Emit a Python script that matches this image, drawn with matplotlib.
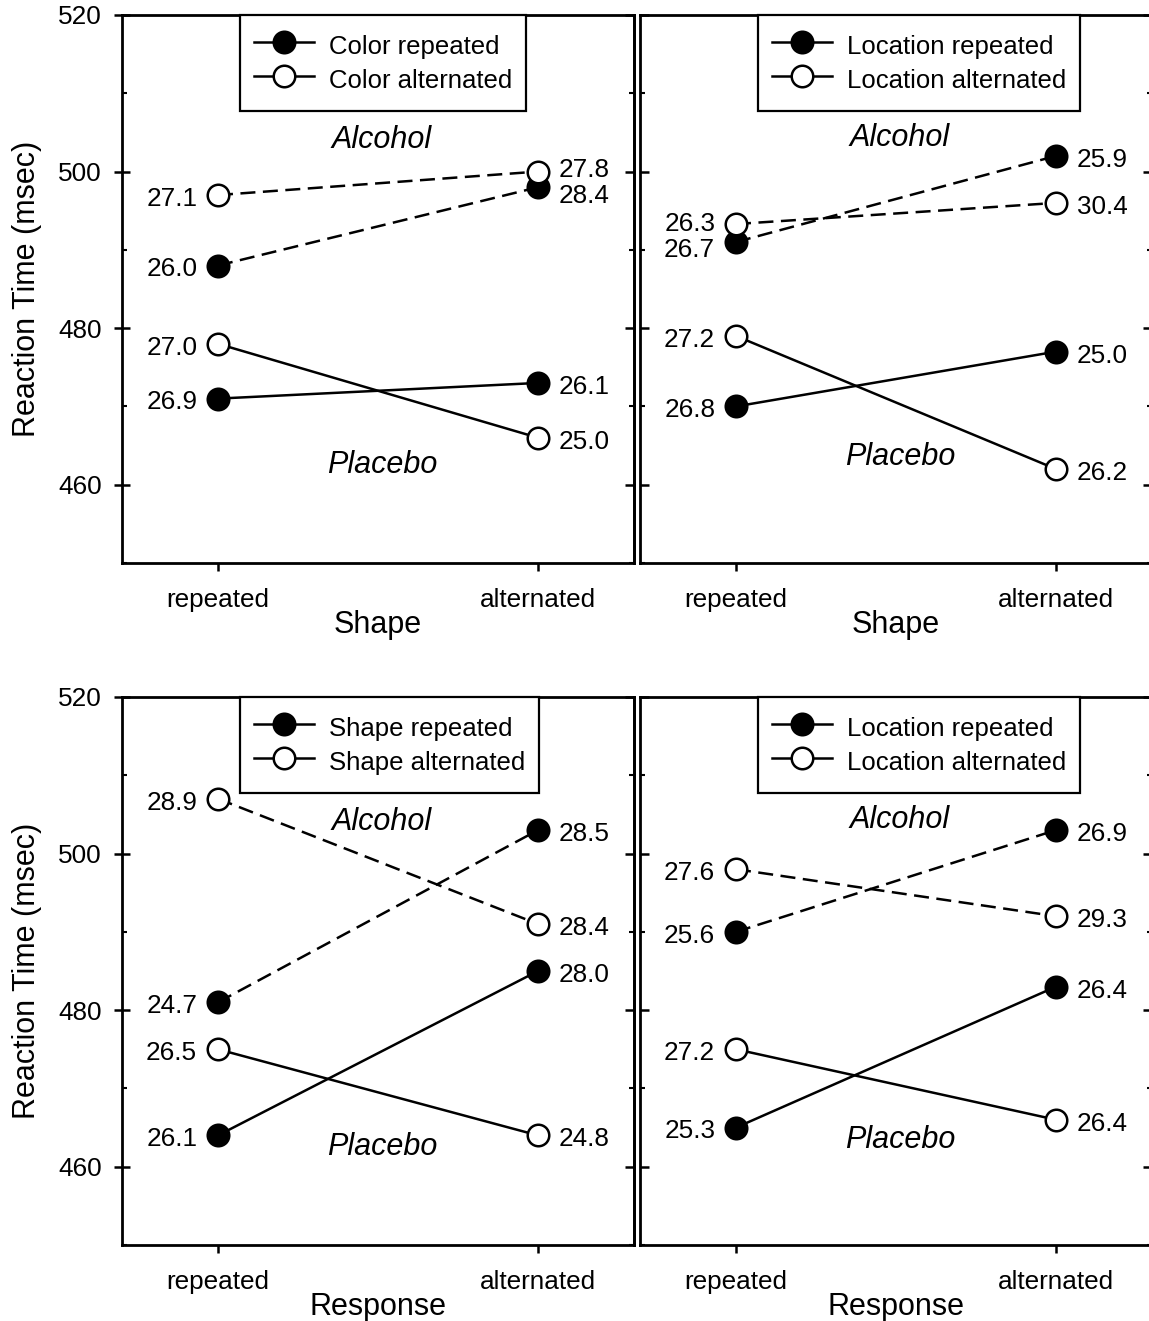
import matplotlib.pyplot as plt
from matplotlib.lines import Line2D
from matplotlib.ticker import MultipleLocator

plt.rcParams['font.family'] = ['Liberation Sans', 'DejaVu Sans']

conditions = ['repeated', 'alternated']

# mean RT (msec) per line, order: alcohol-repeated, alcohol-alternated,
# placebo-repeated, placebo-alternated; each list is [repeated, alternated]
color_shape_rt = [[488, 498], [497, 500], [471, 473], [478, 466]]
color_shape_sd = [[26.0, 28.4], [27.1, 27.8], [26.9, 26.1], [27.0, 25.0]]

loc_shape_rt = [[491, 502], [493.3, 496], [470, 477], [479, 462]]
loc_shape_sd = [[26.7, 25.9], [26.3, 30.4], [26.8, 25.0], [27.2, 26.2]]

shape_resp_rt = [[481, 503], [507, 491], [464, 485], [475, 464]]
shape_resp_sd = [[24.7, 28.5], [28.9, 28.4], [26.1, 28.0], [26.5, 24.8]]

loc_resp_rt = [[490, 503], [498, 492], [465, 483], [475, 466]]
loc_resp_sd = [[25.6, 26.9], [27.6, 29.3], [25.3, 26.4], [27.2, 26.4]]

panel_legend = ['Color', 'Location', 'Shape', 'Location']
panel_xlabel = ['Shape', 'Shape', 'Response', 'Response']

# heights of the group captions inside each panel
alcohol_y = [504.0, 504.3, 504.0, 504.3]
placebo_y = [462.5, 463.5, 462.5, 463.4]

FIG_W, FIG_H = 1149, 1321
AX_W, AX_H = 512, 548
PX_PER_UNIT = AX_H / 70.0
LW = 1.8
TICK_FS = 18.8
LABEL_FS = 22

fig = plt.figure(figsize=(FIG_W / 100, FIG_H / 100), dpi=100)


def add_axes(left_px, top_px):
    return fig.add_axes([left_px / FIG_W, 1 - (top_px + AX_H) / FIG_H,
                         AX_W / FIG_W, AX_H / FIG_H])


def label_shifts(values):
    # push apart value labels whose markers sit too close together
    shifts = [0.0] * len(values)
    for i in range(len(values)):
        for j in range(len(values)):
            if i == j:
                continue
            gap = abs(values[i] - values[j]) * PX_PER_UNIT
            if gap < 24:
                push = (26 - gap) / 2 * 0.72
                shifts[i] += push if values[i] > values[j] else -push
    return shifts


def draw_panel(ax, rt, sd, legend_name, xlabel, show_y, cap_alc, cap_pla):
    styles = [('k', (0, (6, 3))), ('w', (0, (6, 3))), ('k', '-'), ('w', '-')]
    order = [0, 2, 1, 3]
    for k in order:
        face, ls = styles[k]
        ax.plot([0, 1], rt[k], color='k', lw=LW, linestyle=ls, marker='o',
                markersize=15.5, markerfacecolor=face, markeredgecolor='k',
                markeredgewidth=1.8, zorder=3)

    for xi in range(2):
        col = [rt[k][xi] for k in range(4)]
        shifts = label_shifts(col)
        for k in range(4):
            dx = -15 if xi == 0 else 15
            ax.annotate(f"{sd[k][xi]:.1f}", (xi, rt[k][xi]),
                        xytext=(dx, shifts[k] - 1), textcoords='offset points',
                        ha='right' if xi == 0 else 'left',
                        va='center_baseline', fontsize=TICK_FS)

    ax.text(0.5125, cap_alc, 'Alcohol', style='italic', fontsize=LABEL_FS,
            ha='center', va='center')
    ax.text(0.5125, cap_pla, 'Placebo', style='italic', fontsize=LABEL_FS,
            ha='center', va='center')

    ax.set_xlim(-0.3, 1.3)
    ax.set_ylim(450, 520)
    ax.set_xticks([0, 1])
    ax.set_xticklabels(conditions)
    ax.set_xlabel(xlabel, fontsize=LABEL_FS, labelpad=-1)
    ax.yaxis.set_major_locator(MultipleLocator(20))
    ax.yaxis.set_minor_locator(MultipleLocator(10))
    ax.set_yticks([460, 480, 500, 520])

    for sp in ax.spines.values():
        sp.set_linewidth(2.0)

    ax.tick_params(axis='x', which='major', direction='out', length=5.8,
                   width=1.8, labelsize=TICK_FS, pad=12, top=False)
    ax.tick_params(axis='x', which='minor', bottom=False, top=False)

    if show_y:
        ax.tick_params(axis='y', which='major', direction='inout', length=11.5,
                       width=1.8, labelsize=TICK_FS, pad=9, right=False)
        ax.tick_params(axis='y', which='minor', direction='in', length=3.6,
                       width=1.5, right=False)
        ax.set_ylabel('Reaction Time (msec)', fontsize=LABEL_FS, labelpad=11)
        sec = ax.secondary_yaxis('right')
        sec.set_yticks([460, 480, 500, 520])
        sec.yaxis.set_minor_locator(MultipleLocator(10))
        sec.tick_params(which='major', direction='in', length=6.5, width=1.8,
                        labelright=False)
        sec.tick_params(which='minor', direction='in', length=3.6, width=1.5)
        sec.spines['right'].set_linewidth(2.0)
    else:
        ax.tick_params(axis='y', which='major', direction='in', length=6.5,
                       width=1.8, left=True, right=True, labelleft=False)
        ax.tick_params(axis='y', which='minor', direction='in', length=3.6,
                       width=1.5, left=True, right=True)

    handles = [
        Line2D([], [], color='k', lw=LW, marker='o', markersize=15.5,
               markerfacecolor='k', markeredgecolor='k', markeredgewidth=1.8),
        Line2D([], [], color='k', lw=LW, marker='o', markersize=15.5,
               markerfacecolor='w', markeredgecolor='k', markeredgewidth=1.8),
    ]
    leg = ax.legend(handles, [f'{legend_name} repeated', f'{legend_name} alternated'],
                    loc='upper left', bbox_to_anchor=(0.231, 1.0),
                    borderaxespad=0, fancybox=False, edgecolor='k',
                    framealpha=1, fontsize=18.5, handlelength=2.3,
                    handleheight=1.65, handletextpad=0.6, borderpad=0.55,
                    labelspacing=0.0)
    leg.get_frame().set_linewidth(1.6)


ax_tl = add_axes(122, 15)
ax_tr = add_axes(640, 15)
ax_bl = add_axes(122, 697)
ax_br = add_axes(640, 697)

draw_panel(ax_tl, color_shape_rt, color_shape_sd, panel_legend[0], panel_xlabel[0],
           True, alcohol_y[0], placebo_y[0])
draw_panel(ax_tr, loc_shape_rt, loc_shape_sd, panel_legend[1], panel_xlabel[1],
           False, alcohol_y[1], placebo_y[1])
draw_panel(ax_bl, shape_resp_rt, shape_resp_sd, panel_legend[2], panel_xlabel[2],
           True, alcohol_y[2], placebo_y[2])
draw_panel(ax_br, loc_resp_rt, loc_resp_sd, panel_legend[3], panel_xlabel[3],
           False, alcohol_y[3], placebo_y[3])

fig.savefig('out.png', dpi=100, facecolor='white')
